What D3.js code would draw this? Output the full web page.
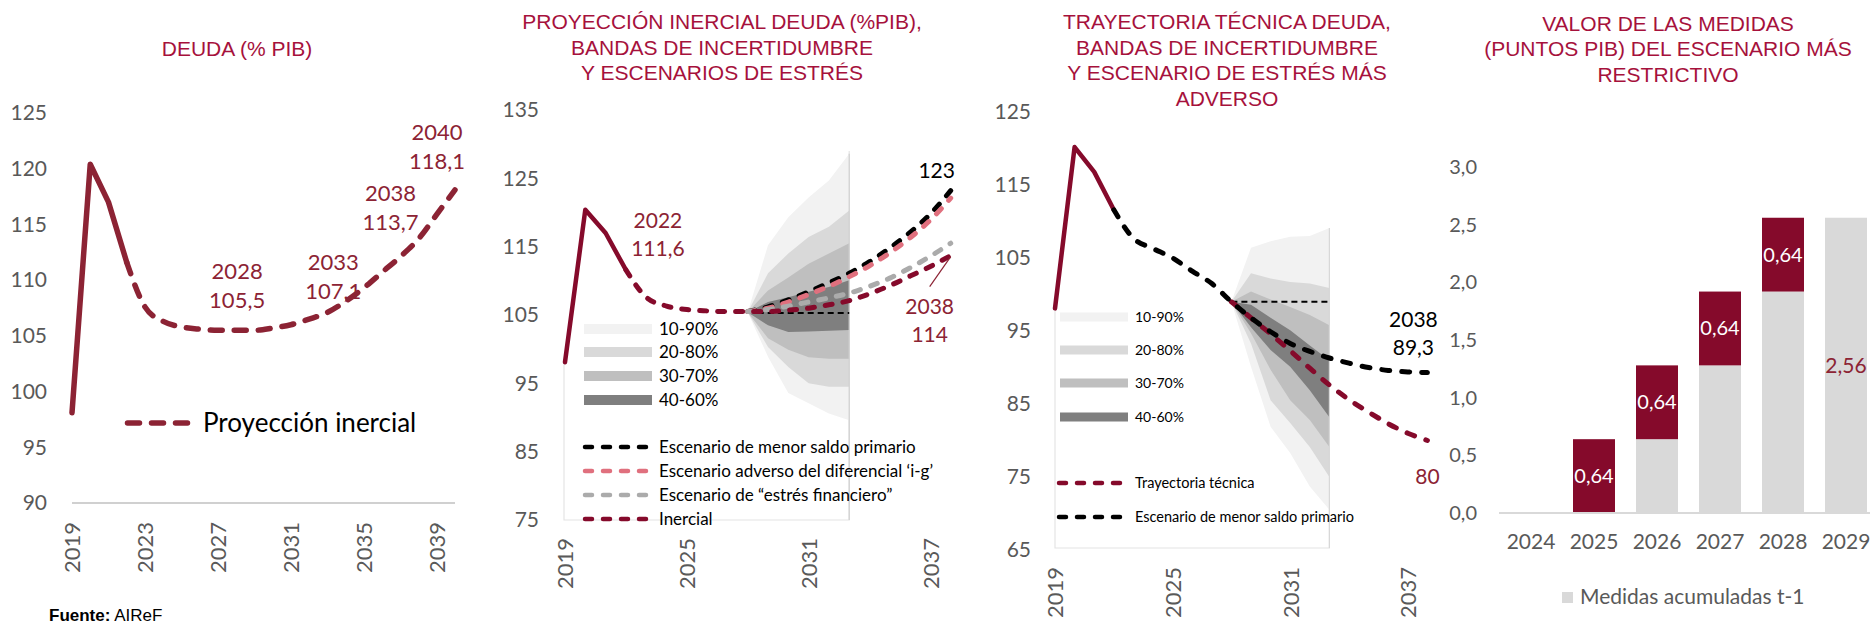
<!DOCTYPE html>
<html>
<head>
<meta charset="utf-8">
<script src="https://cdn.jsdelivr.net/npm/d3@7"></script>
<style>
  body { margin: 0; background: #fff; }
  text { font-family: Lato, "Open Sans", sans-serif; }
  .title { font-family: "Liberation Sans", Arial, sans-serif; fill: #A6113C; font-size: 21px; }
</style>
</head>
<body>
<div id="chart"></div>
<script>
const svgWidth = 1870;
const svgHeight = 624;
const maroon = "#8C2334";
const crimson = "#850A2B";
const tickColor = "#595959";
const pink = "#E0707E";
const midGray = "#ABABAB";
const bandColors = ["#F2F2F2", "#D9D9D9", "#BFBFBF", "#7F7F7F"];
const barGray = "#D9D9D9";

// ---- data: panel 1, deuda (% PIB), proyeccion inercial
const deudaYears = [2019, 2020, 2021, 2022, 2023, 2024, 2025, 2026, 2027, 2028, 2029,
  2030, 2031, 2032, 2033, 2034, 2035, 2036, 2037, 2038, 2039, 2040];
const deudaInercial = [98.1, 120.4, 117.0, 111.6, 107.6, 106.3, 105.8, 105.6, 105.5, 105.5, 105.5,
  105.7, 106.0, 106.5, 107.1, 108.1, 109.3, 110.7, 112.1, 113.7, 115.9, 118.1];
const lastObsYear = 2022;
const deudaCallouts = [[2028, "105,5"], [2033, "107,1"], [2038, "113,7"], [2040, "118,1"]];
const deudaTicksY = [90, 95, 100, 105, 110, 115, 120, 125];
const deudaTicksX = [2019, 2023, 2027, 2031, 2035, 2039];

// ---- data: panel 2, escenarios de estres
const escYears = [2028, 2029, 2030, 2031, 2032, 2033, 2034, 2035, 2036, 2037, 2038];
const escMenorSaldo = [105.5, 106.2, 107.2, 108.4, 109.7, 111.1, 112.8, 114.8, 117.1, 119.8, 123.2];
const escAdversoIG = [105.5, 106.0, 106.9, 108.0, 109.2, 110.6, 112.2, 114.1, 116.3, 118.9, 122.1];
const escEstresFin = [105.5, 105.8, 106.3, 106.9, 107.5, 108.2, 109.2, 110.4, 111.9, 113.6, 115.5];
const bandYears2 = [2028, 2029, 2030, 2031, 2032, 2033];
const band2p10 = [105.4, 98.9, 93.6, 92.1, 90.6, 89.6];
const band2p20 = [105.4, 100.3, 97.4, 95.0, 94.5, 94.5];
const band2p30 = [105.4, 101.6, 99.9, 98.8, 98.6, 98.6];
const band2p40 = [105.4, 103.5, 102.5, 102.6, 102.7, 102.8];
const band2p60 = [105.4, 106.9, 107.6, 108.4, 109.1, 110.1];
const band2p70 = [105.4, 108.6, 110.5, 112.5, 114.0, 115.5];
const band2p80 = [105.4, 111.1, 114.0, 116.4, 117.9, 120.3];
const band2p90 = [105.4, 115.2, 119.3, 122.2, 124.7, 128.6];
const band2Ref = 105.3;
const estresTicksY = [75, 85, 95, 105, 115, 125, 135];
const estresTicksX = [2019, 2025, 2031, 2037];

// ---- data: panel 3, trayectoria tecnica
const tecHistYears = [2019, 2020, 2021, 2022];
const tecHist = [98.1, 120.2, 116.8, 111.6];
const tecSaldoYears = [2022, 2023, 2024, 2025, 2026, 2027, 2028, 2029, 2030, 2031, 2032,
  2033, 2034, 2035, 2036, 2037, 2038];
const tecMenorSaldo = [111.6, 107.7, 106.3, 105.0, 103.2, 101.5, 99.0, 96.8, 94.9, 93.3, 92.2,
  91.3, 90.6, 90.0, 89.6, 89.4, 89.3];
const tecYears = [2028, 2029, 2030, 2031, 2032, 2033, 2034, 2035, 2036, 2037, 2038];
const tecTrayectoria = [99.0, 96.8, 94.6, 92.3, 89.9, 87.6, 85.6, 83.9, 82.3, 81.0, 80.0];
const bandYears3 = [2028, 2029, 2030, 2031, 2032, 2033];
const band3p10 = [99, 90.1, 81.9, 78.3, 73.7, 70.5];
const band3p20 = [99, 93.3, 85.5, 82.4, 79.1, 75.0];
const band3p30 = [99, 94.7, 89.7, 85.5, 82.8, 79.1];
const band3p40 = [99, 95.5, 92.4, 90.1, 86.9, 83.2];
const band3p60 = [99, 98.6, 96.8, 95.1, 93.0, 91.0];
const band3p70 = [99, 100.4, 99.3, 98.3, 97.2, 95.8];
const band3p80 = [99, 102.9, 102.2, 101.7, 101.5, 100.9];
const band3p90 = [99, 106.4, 107.3, 107.9, 108.0, 109.1];
const band3Ref = 99.0;
const tecTicksY = [65, 75, 85, 95, 105, 115, 125];
const tecTicksX = [2019, 2025, 2031, 2037];

// ---- data: panel 4, medidas
const medYears = ["2024", "2025", "2026", "2027", "2028", "2029"];
const medAcumuladas = [0, 0, 0.64, 1.28, 1.92, 2.56];
const medNuevas = [0, 0.64, 0.64, 0.64, 0.64, 0];
const medTicksY = [0, 0.5, 1, 1.5, 2, 2.5, 3];

const bandLabels = ["10-90%", "20-80%", "30-70%", "40-60%"];

const es = d3.formatLocale({ decimal: ",", thousands: ".", grouping: [3], currency: ["", " €"] });

const svg = d3.select("#chart").append("svg")
  .attr("width", svgWidth)
  .attr("height", svgHeight);

function addTitle(lines, cx, y0, lineHeight) {
  let t = svg.append("text").attr("class", "title").attr("text-anchor", "middle");
  lines.forEach((l, i) => t.append("tspan").attr("x", cx).attr("y", y0 + i * lineHeight).text(l));
}

function yAxis(scale, ticks, xPos, format, fontSize) {
  let g = svg.append("g")
    .attr("transform", `translate(${xPos},0)`)
    .call(d3.axisLeft(scale).tickValues(ticks).tickSize(0).tickPadding(0).tickFormat(format));
  g.select(".domain").remove();
  g.selectAll("text")
    .attr("fill", tickColor)
    .style("font-size", `${fontSize}px`)
    .style("font-family", "Lato");
}

function xAxisRotated(scale, ticks, yPos) {
  let g = svg.append("g")
    .attr("transform", `translate(0,${yPos})`)
    .call(d3.axisBottom(scale).tickValues(ticks).tickSize(0).tickFormat(d3.format("d")));
  g.select(".domain").remove();
  g.selectAll("text")
    .attr("transform", "rotate(-90)")
    .attr("text-anchor", "end")
    .attr("x", 0).attr("y", 0).attr("dy", "0.36em")
    .attr("fill", tickColor)
    .style("font-size", "22px")
    .style("font-family", "Lato");
}

function drawLine(years, values, x, y, color, width, dash, curve) {
  let line = d3.line()
    .x((d, i) => x(years[i]))
    .y(d => y(d))
    .curve(curve || d3.curveLinear);
  svg.append("path")
    .datum(values)
    .attr("d", line)
    .attr("fill", "none")
    .attr("stroke", color)
    .attr("stroke-width", width)
    .attr("stroke-linecap", dash ? "round" : "round")
    .attr("stroke-linejoin", "round")
    .attr("stroke-dasharray", dash || null);
}

function drawBands(years, pairs, x, y) {
  pairs.forEach((p, k) => {
    let area = d3.area()
      .x((d, i) => x(years[i]))
      .y0((d, i) => y(p[0][i]))
      .y1((d, i) => y(p[1][i]));
    svg.append("path")
      .datum(years)
      .attr("d", area)
      .attr("fill", bandColors[k]);
  });
}

function callout(cx, yBase, lines, color, size) {
  lines.forEach((l, i) => {
    svg.append("text")
      .attr("x", cx)
      .attr("y", yBase + i * (size + 7))
      .attr("text-anchor", "middle")
      .attr("fill", color)
      .style("font-size", `${size}px`)
      .text(l);
  });
}

function legendDash(x1, x2, yPos, color, width, dash, label, fontSize, textX) {
  svg.append("line")
    .attr("x1", x1).attr("x2", x2).attr("y1", yPos).attr("y2", yPos)
    .attr("stroke", color).attr("stroke-width", width)
    .attr("stroke-linecap", "round")
    .attr("stroke-dasharray", dash);
  svg.append("text")
    .attr("x", textX).attr("y", yPos).attr("dy", "0.35em")
    .attr("fill", "#000")
    .style("font-size", `${fontSize}px`)
    .text(label);
}

function legendPatch(x1, w, h, yPos, color, label, fontSize, textX) {
  svg.append("rect")
    .attr("x", x1).attr("y", yPos - h / 2).attr("width", w).attr("height", h)
    .attr("fill", color);
  svg.append("text")
    .attr("x", textX).attr("y", yPos).attr("dy", "0.35em")
    .attr("fill", "#000")
    .style("font-size", `${fontSize}px`)
    .text(label);
}

// ================= Panel 1 =================
function panelDeuda() {
  let x = d3.scaleLinear().domain([2019, 2040]).range([72, 455]);
  let y = d3.scaleLinear().domain([90, 125]).range([503, 113]);

  addTitle(["DEUDA (% PIB)"], 237, 56, 25);
  yAxis(y, deudaTicksY, 47, d3.format("d"), 21);
  xAxisRotated(x, deudaTicksX, 522);

  svg.append("line")
    .attr("x1", x(2019)).attr("x2", x(2040)).attr("y1", y(90)).attr("y2", y(90))
    .attr("stroke", "#D0D0D0").attr("stroke-width", 2);

  let split = deudaYears.indexOf(lastObsYear);
  drawLine(deudaYears.slice(0, split + 1), deudaInercial.slice(0, split + 1), x, y, maroon, 5.5);
  drawLine(deudaYears.slice(split), deudaInercial.slice(split), x, y, maroon, 5.5, "12 12", d3.curveMonotoneX);

  let offsets = [[1, -24], [6, -15], [-28, -11], [-18, -23]];
  deudaCallouts.forEach((c, i) => {
    let v = deudaInercial[deudaYears.indexOf(c[0])];
    let cx = x(c[0]) + offsets[i][0];
    let base = y(v) + offsets[i][1];
    callout(cx, base - 27, [String(c[0]), c[1]], maroon, 22);
  });

  legendDash(127.5, 190, 423, maroon, 5.5, "12 12", "Proyección inercial", 26, 203);

  let f = svg.append("text").attr("x", 49).attr("y", 621)
    .style("font-family", "'Liberation Sans', Arial, sans-serif").style("font-size", "17px").attr("fill", "#000");
  f.append("tspan").style("font-weight", "bold").text("Fuente:");
  f.append("tspan").text(" AIReF");
}

// ================= Panel 2 =================
function panelEstres() {
  let x = d3.scaleLinear().domain([2019, 2038]).range([565, 950.7]);
  let y = d3.scaleLinear().domain([75, 135]).range([520, 110]);

  addTitle(["PROYECCIÓN INERCIAL DEUDA (%PIB),", "BANDAS DE INCERTIDUMBRE", "Y ESCENARIOS DE ESTRÉS"], 722, 29, 25.5);
  yAxis(y, estresTicksY, 539, d3.format("d"), 21);
  xAxisRotated(x, estresTicksX, 538);

  // inset frame of the fan chart
  let right = x(2033);
  svg.append("path")
    .attr("d", `M${x(2019) - 1},363 V${y(75)} H${right} V${y(129)}`)
    .attr("fill", "none").attr("stroke", "#E4E4E4").attr("stroke-width", 1.2);

  drawBands(bandYears2, [[band2p10, band2p90], [band2p20, band2p80], [band2p30, band2p70], [band2p40, band2p60]], x, y);
  svg.append("line")
    .attr("x1", right).attr("x2", right).attr("y1", y(128.6)).attr("y2", y(75))
    .attr("stroke", "#D0D0D0").attr("stroke-width", 1.2);

  svg.append("line")
    .attr("x1", x(2028)).attr("x2", right).attr("y1", y(band2Ref)).attr("y2", y(band2Ref))
    .attr("stroke", "#000").attr("stroke-width", 2).attr("stroke-dasharray", "6 4");

  let split = deudaYears.indexOf(lastObsYear);
  let endIdx = deudaYears.indexOf(2038);
  drawLine(escYears, escMenorSaldo, x, y, "#000", 5, "7 11", d3.curveMonotoneX);
  drawLine(escYears, escAdversoIG, x, y, pink, 5, "7 11", d3.curveMonotoneX);
  drawLine(escYears, escEstresFin, x, y, midGray, 5, "7 11", d3.curveMonotoneX);
  drawLine(deudaYears.slice(0, split + 1), deudaInercial.slice(0, split + 1), x, y, crimson, 4.5);
  drawLine(deudaYears.slice(split, endIdx + 1), deudaInercial.slice(split, endIdx + 1), x, y, crimson, 5, "7 11", d3.curveMonotoneX);

  // callouts
  let v22 = deudaInercial[split];
  callout(x(2022) + 32, y(v22) - 42, ["2022", "111,6"], maroon, 21);
  let last = escMenorSaldo[escMenorSaldo.length - 1];
  callout(x(2038) - 14, y(last) - 13, ["123"], "#000", 21);
  let v38 = deudaInercial[endIdx];
  svg.append("line")
    .attr("x1", x(2038)).attr("y1", y(v38) + 1)
    .attr("x2", x(2038) - 21).attr("y2", y(v38) + 31)
    .attr("stroke", maroon).attr("stroke-width", 1.2);
  callout(x(2038) - 21, y(v38) + 58, ["2038", "114"], maroon, 21);

  // legend
  let rows = [329, 352, 376, 400];
  bandLabels.forEach((l, i) => legendPatch(584, 68, 10, rows[i], bandColors[i], l, 17, 659));
  legendDash(585, 652, 447, "#000", 4.5, "7 11", "Escenario de menor saldo primario", 17, 659);
  legendDash(585, 652, 471, pink, 4.5, "7 11", "Escenario adverso del diferencial ‘i-g’", 17, 659);
  legendDash(585, 652, 495, midGray, 4.5, "7 11", "Escenario de “estrés financiero”", 17, 659);
  legendDash(585, 652, 519, crimson, 4.5, "7 11", "Inercial", 17, 659);
}

// ================= Panel 3 =================
function panelTecnica() {
  let x = d3.scaleLinear().domain([2019, 2038]).range([1055, 1427.4]);
  let y = d3.scaleLinear().domain([65, 125]).range([550, 112]);

  addTitle(["TRAYECTORIA TÉCNICA DEUDA,", "BANDAS DE INCERTIDUMBRE", "Y ESCENARIO DE ESTRÉS MÁS", "ADVERSO"], 1227, 29, 25.7);
  yAxis(y, tecTicksY, 1031, d3.format("d"), 21);
  xAxisRotated(x, tecTicksX, 567);

  let right = x(2033);
  svg.append("path")
    .attr("d", `M${x(2019)},310 V${y(65) - 2} H${right} V${y(109)}`)
    .attr("fill", "none").attr("stroke", "#E4E4E4").attr("stroke-width", 1.2);

  drawBands(bandYears3, [[band3p10, band3p90], [band3p20, band3p80], [band3p30, band3p70], [band3p40, band3p60]], x, y);
  svg.append("line")
    .attr("x1", right).attr("x2", right).attr("y1", y(109.1)).attr("y2", y(65) - 2)
    .attr("stroke", "#D8D8D8").attr("stroke-width", 1.2);

  svg.append("line")
    .attr("x1", x(2028)).attr("x2", right).attr("y1", y(band3Ref)).attr("y2", y(band3Ref))
    .attr("stroke", "#000").attr("stroke-width", 2).attr("stroke-dasharray", "6 4");

  drawLine(tecHistYears, tecHist, x, y, crimson, 4.5);
  drawLine(tecYears, tecTrayectoria, x, y, crimson, 5, "8 12", d3.curveMonotoneX);
  drawLine(tecSaldoYears, tecMenorSaldo, x, y, "#000", 5, "8 12", d3.curveMonotoneX);

  let vs = tecMenorSaldo[tecMenorSaldo.length - 1];
  callout(x(2038) - 14, y(vs) - 46, ["2038", "89,3"], "#000", 21);
  let vt = tecTrayectoria[tecTrayectoria.length - 1];
  callout(x(2038), y(vt) + 43, ["80"], maroon, 21);

  let rows = [317, 350, 383, 417];
  bandLabels.forEach((l, i) => legendPatch(1060, 68, 9, rows[i], bandColors[i], l, 14, 1135));
  legendDash(1059, 1126, 483, crimson, 4.5, "7 11", "Trayectoria técnica", 14.5, 1135);
  legendDash(1059, 1126, 517, "#000", 4.5, "7 11", "Escenario de menor saldo primario", 14.5, 1135);
}

// ================= Panel 4 =================
function panelMedidas() {
  let x = d3.scaleBand().domain(medYears).range([1499.5, 1877.5]).paddingInner(1 / 3).paddingOuter(1 / 6);
  let y = d3.scaleLinear().domain([0, 3]).range([513, 167]);

  addTitle(["VALOR DE LAS MEDIDAS", "(PUNTOS PIB) DEL ESCENARIO MÁS", "RESTRICTIVO"], 1668, 31, 25.3);
  yAxis(y, medTicksY, 1477, es.format(".1f"), 20);

  svg.selectAll(".acum")
    .data(medYears)
    .enter().append("rect")
    .attr("x", d => x(d))
    .attr("y", (d, i) => y(medAcumuladas[i]))
    .attr("width", x.bandwidth())
    .attr("height", (d, i) => y(0) - y(medAcumuladas[i]))
    .attr("fill", barGray);

  svg.selectAll(".nueva")
    .data(medYears)
    .enter().append("rect")
    .attr("x", d => x(d))
    .attr("y", (d, i) => y(medAcumuladas[i] + medNuevas[i]))
    .attr("width", x.bandwidth())
    .attr("height", (d, i) => y(medAcumuladas[i]) - y(medAcumuladas[i] + medNuevas[i]))
    .attr("fill", crimson);

  svg.append("line")
    .attr("x1", 1499).attr("x2", 1870).attr("y1", y(0)).attr("y2", y(0))
    .attr("stroke", "#D9D9D9").attr("stroke-width", 2);

  medYears.forEach((d, i) => {
    if (medNuevas[i] > 0) {
      svg.append("text")
        .attr("x", x(d) + x.bandwidth() / 2)
        .attr("y", y(medAcumuladas[i] + medNuevas[i] / 2))
        .attr("dy", "0.35em")
        .attr("text-anchor", "middle")
        .attr("fill", "#fff")
        .style("font-size", "20px")
        .text(es.format(".2f")(medNuevas[i]));
    } else if (medAcumuladas[i] > 0) {
      svg.append("text")
        .attr("x", x(d) + x.bandwidth() / 2)
        .attr("y", y(medAcumuladas[i] / 2))
        .attr("dy", "0.35em")
        .attr("text-anchor", "middle")
        .attr("fill", maroon)
        .style("font-size", "21px")
        .text(es.format(".2f")(medAcumuladas[i]));
    }
  });

  let g = svg.append("g")
    .attr("transform", `translate(0,${y(0)})`)
    .call(d3.axisBottom(x).tickSize(0).tickPadding(0));
  g.select(".domain").remove();
  g.selectAll("text")
    .attr("y", 29).attr("dy", "0.35em")
    .attr("fill", tickColor)
    .style("font-size", "21px")
    .style("font-family", "Lato");

  svg.append("rect").attr("x", 1562).attr("y", 592).attr("width", 11).attr("height", 11).attr("fill", barGray);
  svg.append("text")
    .attr("x", 1580).attr("y", 597).attr("dy", "0.35em")
    .attr("fill", tickColor)
    .style("font-size", "21px")
    .text("Medidas acumuladas t-1");
}

panelDeuda();
panelEstres();
panelTecnica();
panelMedidas();
</script>
</body>
</html>
